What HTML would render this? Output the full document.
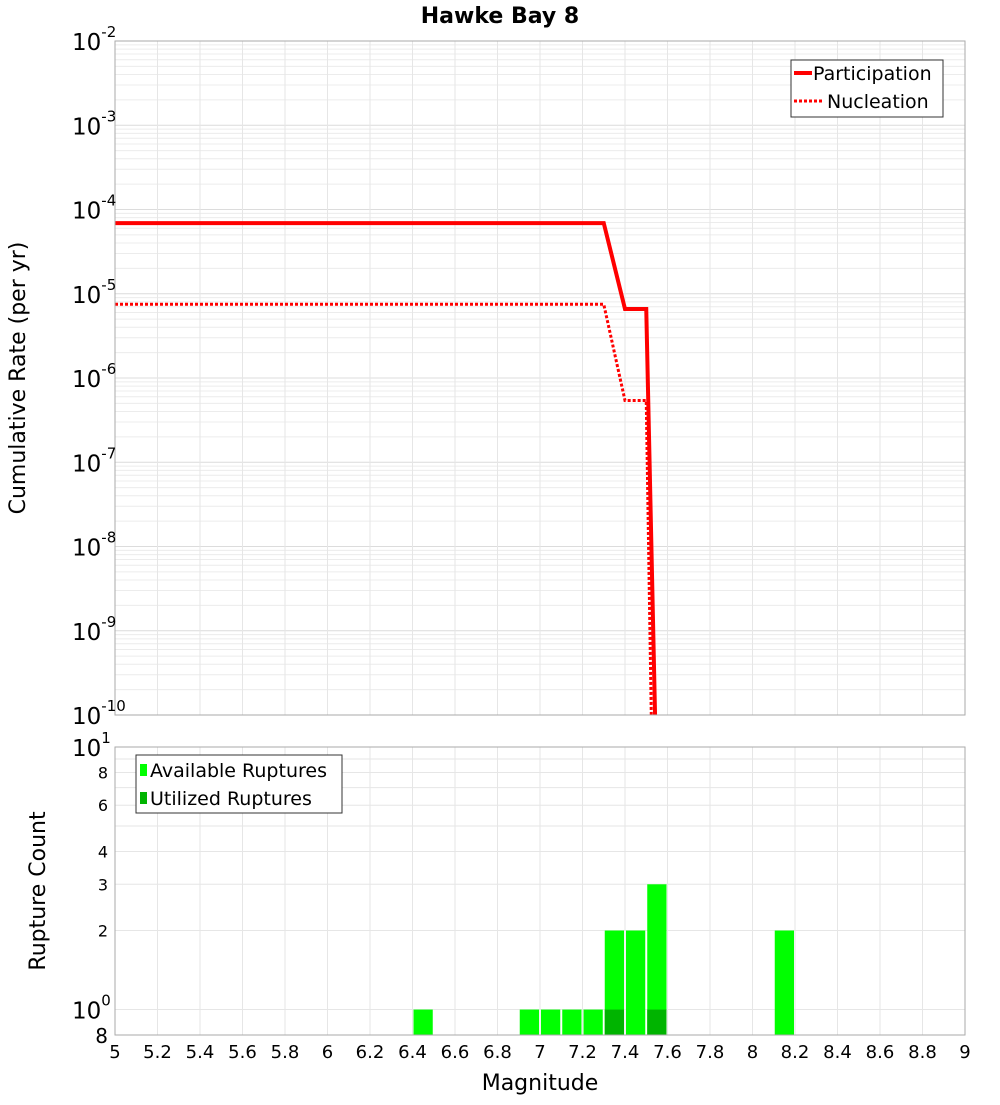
<!DOCTYPE html>
<html><head><meta charset="utf-8"><style>
body{margin:0;background:#fff;font-family:"Liberation Sans","DejaVu Sans",sans-serif}
svg text{font-family:"DejaVu Sans","Liberation Sans",sans-serif}
</style></head><body>
<svg id="c" width="1000" height="1100" xmlns="http://www.w3.org/2000/svg"></svg>
<script>
const partX=[5,7.3,7.4,7.5,7.55];
const partY=[6.9e-5,6.9e-5,6.6e-6,6.6e-6,1e-11];
const nuclX=[5,7.3,7.4,7.5,7.53];
const nuclY=[7.5e-6,7.5e-6,5.4e-7,5.4e-7,1e-11];
const binCenters=[6.45,6.95,7.05,7.15,7.25,7.35,7.45,7.55,8.15];
const availCounts=[1,1,1,1,1,2,2,3,2];
const utilCenters=[7.35,7.55];
const utilCounts=[1,1];
const xTicks=[5,5.2,5.4,5.6,5.8,6,6.2,6.4,6.6,6.8,7,7.2,7.4,7.6,7.8,8,8.2,8.4,8.6,8.8,9];
const topExps=[-2,-3,-4,-5,-6,-7,-8,-9,-10];
const botTicks=[8,6,4,3,2];

const NS="http://www.w3.org/2000/svg";
const svg=document.getElementById('c');
function el(t,a,p){const e=document.createElementNS(NS,t);for(const k in a)e.setAttribute(k,a[k]);(p||svg).appendChild(e);return e;}
const L=115,R=965,T1=41,B1=715,T2=747,B2=1035;
const X=v=>L+(v-5)/4*(R-L);
const Y1=v=>T1+(-2-Math.log10(v))/8*(B1-T1);
const Y2=v=>T2+(1-Math.log10(v))/(1-Math.log10(0.8))*(B2-T2);

// clip
const defs=el('defs',{});
const cp=el('clipPath',{id:'cp1'},defs);el('rect',{x:L,y:T1,width:R-L,height:B1-T1},cp);

// grids
let g=el('g',{});
for(let e=-10;e<-2;e++)for(let m=1;m<10;m++){const y=Y1(m*Math.pow(10,e));el('line',{x1:L,x2:R,y1:y,y2:y,stroke:m==1?'#dcdcdc':'#ececec','stroke-width':1},g);}
for(const t of xTicks){el('line',{x1:X(t),x2:X(t),y1:T1,y2:B1,stroke:'#e6e6e6'},g);el('line',{x1:X(t),x2:X(t),y1:T2,y2:B2,stroke:'#e6e6e6'},g);}
for(const v of [0.8,1,2,3,4,5,6,7,8,9,10])el('line',{x1:L,x2:R,y1:Y2(v),y2:Y2(v),stroke:'#e6e6e6'},g);

// title
let t=el('text',{x:500,y:23,'text-anchor':'middle','font-size':22,'font-weight':'bold'});t.textContent='Hawke Bay 8';


// lines
function pl(xs,ys,attrs,name){const p=el('polyline',Object.assign({points:xs.map((x,i)=>X(x)+','+Y1(ys[i])).join(' '),fill:'none','clip-path':'url(#cp1)'},attrs));}
pl(partX,partY,{stroke:'#f00','stroke-width':4},'participation-line');
pl(nuclX,nuclY,{stroke:'#f00','stroke-width':3,'stroke-dasharray':'3,2'},'nucleation-line');

// bars
const bw=0.1*(R-L)/4-2;
binCenters.forEach((c,i)=>{const r=el('rect',{x:X(c)-bw/2,y:Y2(availCounts[i]),width:bw,height:B2-Y2(availCounts[i]),fill:'#00ff00'});});
utilCenters.forEach((c,i)=>{const r=el('rect',{x:X(c)-bw/2,y:Y2(utilCounts[i]),width:bw,height:B2-Y2(utilCounts[i]),fill:'#00b400'});});

// frames
el('rect',{x:L,y:T1,width:R-L,height:B1-T1,fill:'none',stroke:'#aaa'});
el('rect',{x:L,y:T2,width:R-L,height:B2-T2,fill:'none',stroke:'#aaa'});

// top y labels
topExps.forEach(e=>{const y=Y1(Math.pow(10,e));const tx=el('text',{x:72,y:y+9,'font-size':23});tx.textContent='10';const s=el('tspan',{dy:-13,'font-size':15},tx);s.textContent=String(e);});
// bottom y labels
[[10,'1'],[1,'0']].forEach(([v,e])=>{const tx=el('text',{x:72,y:Y2(v)+9,'font-size':23});tx.textContent='10';const s=el('tspan',{dy:-13,'font-size':15},tx);s.textContent=e;});
botTicks.forEach(v=>{const tx=el('text',{x:108,y:Y2(v)+6,'font-size':16,'text-anchor':'end'});tx.textContent=v;});
let t8=el('text',{x:108,y:B2+8,'font-size':20,'text-anchor':'end'});t8.textContent='8';
// x labels
xTicks.forEach(v=>{const tx=el('text',{x:X(v),y:1058,'font-size':18,'text-anchor':'middle'});tx.textContent=String(v);});
let xt=el('text',{x:540,y:1090,'font-size':22,'text-anchor':'middle'});xt.textContent='Magnitude';
let y1t=el('text',{x:25,y:378,'font-size':22,'text-anchor':'middle',transform:'rotate(-90 25 378)'});y1t.textContent='Cumulative Rate (per yr)';
let y2t=el('text',{x:45,y:891,'font-size':22,'text-anchor':'middle',transform:'rotate(-90 45 891)'});y2t.textContent='Rupture Count';

// legends
let lg=el('g',{});
el('rect',{x:791,y:60,width:152,height:57,fill:'#fff',stroke:'#333'},lg);
el('line',{x1:794,x2:812,y1:73,y2:73,stroke:'#f00','stroke-width':4},lg);
el('line',{x1:794,x2:822,y1:101,y2:101,stroke:'#f00','stroke-width':3,'stroke-dasharray':'3,2'},lg);
let a=el('text',{x:813,y:80,'font-size':19},lg);a.textContent='Participation';
let b=el('text',{x:827,y:108,'font-size':19},lg);b.textContent='Nucleation';
let lg2=el('g',{});
el('rect',{x:136,y:755,width:206,height:58,fill:'#fff',stroke:'#333'},lg2);
el('rect',{x:140,y:764,width:7,height:12,fill:'#00ff00'},lg2);
el('rect',{x:140,y:792,width:7,height:12,fill:'#00b400'},lg2);
let c1=el('text',{x:150,y:777,'font-size':19},lg2);c1.textContent='Available Ruptures';
let c2=el('text',{x:150,y:805,'font-size':19},lg2);c2.textContent='Utilized Ruptures';
</script>
</body></html>
